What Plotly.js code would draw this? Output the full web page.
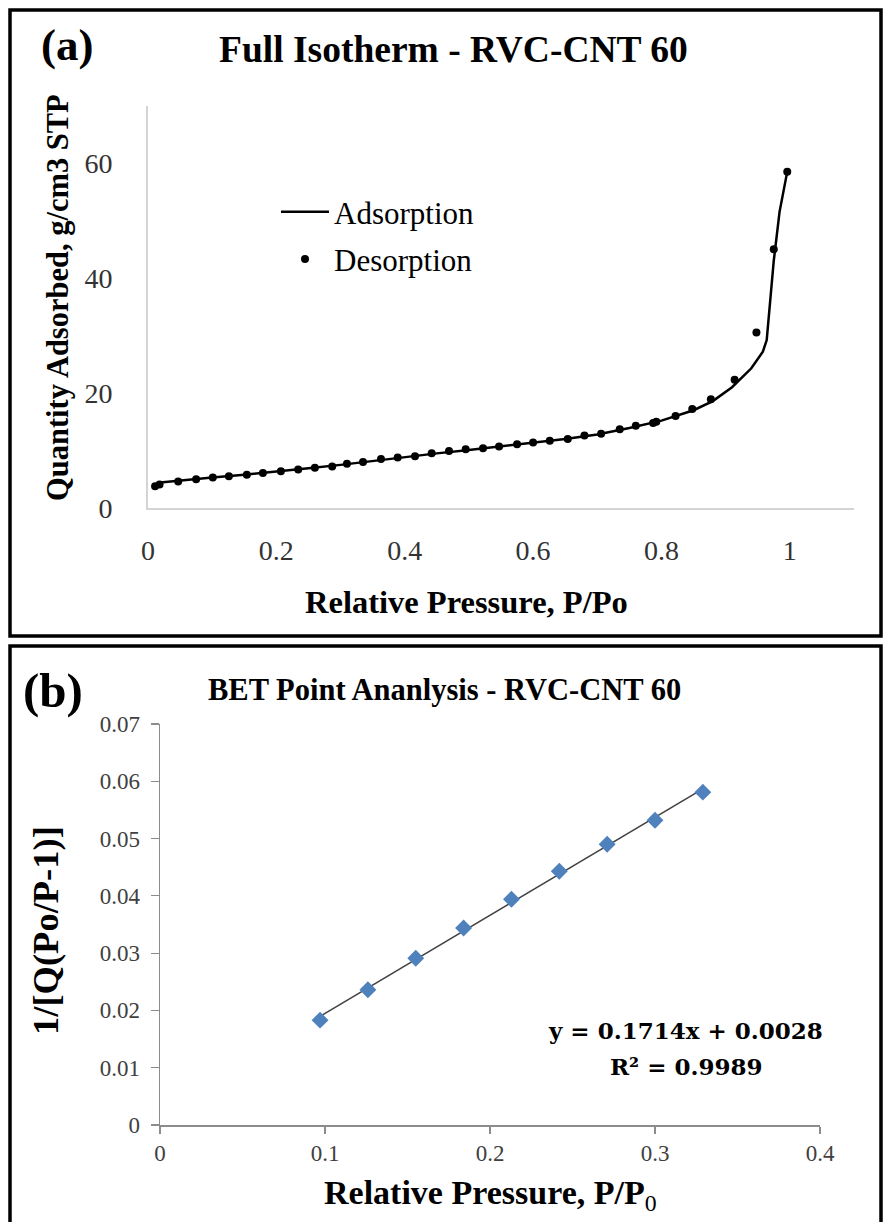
<!DOCTYPE html>
<html>
<head>
<meta charset="utf-8">
<script src="https://cdn.plot.ly/plotly-3.0.1.min.js"></script>
<style>
  html, body { margin: 0; padding: 0; background: #ffffff; }
  #chart { width: 885px; height: 1222px; }
</style>
</head>
<body>
<div id="chart"></div>
<script>
// ---------- Data: (a) Full isotherm ----------
const desPressure = [0.011, 0.018, 0.047, 0.075, 0.101, 0.126, 0.154, 0.179, 0.207, 0.234, 0.260, 0.287, 0.310, 0.335, 0.363, 0.389, 0.416, 0.442, 0.469, 0.495, 0.522, 0.547, 0.575, 0.600, 0.626, 0.654, 0.680, 0.706, 0.735, 0.760, 0.787, 0.792, 0.822, 0.848, 0.877, 0.914, 0.948, 0.975, 0.996];
const desQuantity = [3.8, 4.1, 4.6, 5.0, 5.3, 5.5, 5.8, 6.1, 6.4, 6.7, 7.0, 7.2, 7.7, 8.0, 8.5, 8.8, 9.0, 9.5, 9.9, 10.2, 10.4, 10.7, 11.1, 11.4, 11.7, 12.0, 12.6, 12.9, 13.7, 14.3, 14.8, 15.0, 16.0, 17.2, 18.9, 22.3, 30.5, 45.0, 58.5];
const adsPressure = [0.015, 0.05, 0.10, 0.15, 0.20, 0.25, 0.30, 0.35, 0.40, 0.45, 0.50, 0.55, 0.60, 0.65, 0.70, 0.75, 0.80, 0.85, 0.88, 0.91, 0.94, 0.958, 0.964, 0.969, 0.975, 0.984, 0.996];
const adsQuantity = [4.4, 4.8, 5.3, 5.8, 6.3, 6.9, 7.5, 8.2, 8.8, 9.5, 10.1, 10.7, 11.4, 12.0, 12.8, 13.9, 15.2, 17.0, 18.6, 21.0, 24.3, 27.2, 29.2, 35.5, 43.0, 51.5, 58.5];
const isoXTicks = [0, 0.2, 0.4, 0.6, 0.8, 1];
const isoXTickText = ['0', '0.2', '0.4', '0.6', '0.8', '1'];
const isoYTicks = [0, 20, 40, 60];

// ---------- Data: (b) BET plot ----------
const betPressure = [0.097, 0.126, 0.155, 0.184, 0.213, 0.242, 0.271, 0.300, 0.329];
const betInverse = [0.0183, 0.0236, 0.0291, 0.0344, 0.0394, 0.0443, 0.0490, 0.0532, 0.0581];
const betXTicks = [0, 0.1, 0.2, 0.3, 0.4];
const betXTickText = ['0', '0.1', '0.2', '0.3', '0.4'];
const betYTicks = [0, 0.01, 0.02, 0.03, 0.04, 0.05, 0.06, 0.07];
const betYTickText = ['0', '0.01', '0.02', '0.03', '0.04', '0.05', '0.06', '0.07'];
const fitEquation = 'y = 0.1714x + 0.0028';
const fitR2 = 'R² = 0.9989';

// least-squares trendline from the BET points
const n = betPressure.length;
const mx = betPressure.reduce((a, b) => a + b, 0) / n;
const my = betInverse.reduce((a, b) => a + b, 0) / n;
let sxy = 0, sxx = 0;
for (let i = 0; i < n; i++) { sxy += (betPressure[i] - mx) * (betInverse[i] - my); sxx += (betPressure[i] - mx) ** 2; }
const slope = sxy / sxx, intercept = my - slope * mx;
const fitX = [Math.min(...betPressure), Math.max(...betPressure)];
const fitY = fitX.map(x => slope * x + intercept);

// ---------- pixel helpers (margins are zero, so paper == page) ----------
const W = 885, H = 1222;
const px = x => x / W;
const py = y => 1 - y / H;

const serif = "'Liberation Serif', 'Times New Roman', serif";
const wideSerif = "'DejaVu Serif', serif";

const traces = [
  { x: adsPressure, y: adsQuantity, type: 'scatter', mode: 'lines', name: 'Adsorption',
    line: { color: '#000000', width: 2.5 }, xaxis: 'x', yaxis: 'y', legendgroup: 'a1' },
  { x: desPressure, y: desQuantity, type: 'scatter', mode: 'markers', name: 'Desorption',
    marker: { color: '#000000', size: 8 }, xaxis: 'x', yaxis: 'y', legendgroup: 'a2' },
  { x: fitX, y: fitY, type: 'scatter', mode: 'lines', showlegend: false,
    line: { color: '#404040', width: 1.5 }, xaxis: 'x2', yaxis: 'y2' },
  { x: betPressure, y: betInverse, type: 'scatter', mode: 'markers', showlegend: false,
    marker: { color: '#4f81bd', size: 13, symbol: 'diamond' }, xaxis: 'x2', yaxis: 'y2' }
];

const ann = (text, x, y, size, opts = {}) => Object.assign({
  text, x: px(x), y: py(y), xref: 'paper', yref: 'paper', showarrow: false,
  xanchor: 'center', yanchor: 'middle',
  font: { family: serif, size, color: '#000000' }
}, opts);

const layout = {
  width: W, height: H,
  margin: { l: 0, r: 0, t: 0, b: 0 },
  paper_bgcolor: '#ffffff', plot_bgcolor: 'rgba(0,0,0,0)',
  showlegend: true,
  legend: {
    x: px(276), y: py(185), xanchor: 'left', yanchor: 'top',
    bgcolor: 'rgba(0,0,0,0)', traceorder: 'grouped', tracegroupgap: 4,
    itemwidth: 48,
    font: { family: serif, size: 31, color: '#000000' }
  },
  xaxis: {
    domain: [px(148), px(854)], range: [0, 1.1], anchor: 'y',
    tickvals: isoXTicks, ticktext: isoXTickText,
    showgrid: false, zeroline: false, showline: true, linecolor: '#d4d4d4', linewidth: 2,
    ticks: '', ticklabelstandoff: 16,
    tickfont: { family: serif, size: 28, color: '#333333' }
  },
  yaxis: {
    domain: [py(508), py(105.5)], range: [0, 70], anchor: 'x',
    tickvals: isoYTicks,
    showgrid: false, zeroline: false, showline: true, linecolor: '#d4d4d4', linewidth: 2,
    ticks: '', ticklabelstandoff: 28,
    tickfont: { family: serif, size: 28, color: '#333333' }
  },
  xaxis2: {
    domain: [px(160), px(820)], range: [0, 0.4], anchor: 'y2',
    tickvals: betXTicks, ticktext: betXTickText,
    showgrid: false, zeroline: false, showline: true, linecolor: '#8c8c8c', linewidth: 1.5,
    ticks: 'outside', ticklen: 7, tickcolor: '#8c8c8c', tickwidth: 1.2,
    tickfont: { family: serif, size: 23, color: '#404040' }
  },
  yaxis2: {
    domain: [py(1125), py(724)], range: [0, 0.07], anchor: 'x2',
    tickvals: betYTicks, ticktext: betYTickText,
    showgrid: false, zeroline: false, showline: true, linecolor: '#8c8c8c', linewidth: 1.5,
    ticks: 'outside', ticklen: 8, tickcolor: '#8c8c8c', tickwidth: 1.2, ticklabelstandoff: 6,
    tickfont: { family: serif, size: 23, color: '#404040' }
  },
  shapes: [
    { type: 'rect', xref: 'paper', yref: 'paper', x0: px(10), x1: px(881), y0: py(636), y1: py(10),
      line: { color: '#000000', width: 3.5 } },
    { type: 'rect', xref: 'paper', yref: 'paper', x0: px(10), x1: px(881), y0: py(1240), y1: py(646),
      line: { color: '#000000', width: 3.5 } }
  ],
  annotations: [
    ann('<b>(a)</b>', 67, 45, 45),
    ann('<b>Full Isotherm - RVC-CNT 60</b>', 453, 50, 37.5),
    ann('<b>Quantity Adsorbed, g/cm3 STP</b>', 58, 298, 30.5, { textangle: -90 }),
    ann('<b>Relative Pressure, P/Po</b>', 466, 602, 32.5),
    ann('<b>(b)</b>', 53, 690, 49),
    ann('<b>BET Point Ananlysis - RVC-CNT 60</b>', 444, 690, 30.5),
    ann('<b>1/[Q(Po/P-1)]</b>', 45, 931, 36.5, { textangle: -90 }),
    ann('<b>Relative Pressure, P/P</b><sub>0</sub>', 491, 1195, 34),
    ann('<b>' + fitEquation + '</b>', 685, 1030, 23, { font: { family: wideSerif, size: 23, color: '#000000' } }),
    ann('<b>' + fitR2 + '</b>', 686, 1066, 23, { font: { family: wideSerif, size: 23, color: '#000000' } })
  ]
};

Plotly.newPlot('chart', traces, layout, { staticPlot: true, displayModeBar: false });
</script>
</body>
</html>
